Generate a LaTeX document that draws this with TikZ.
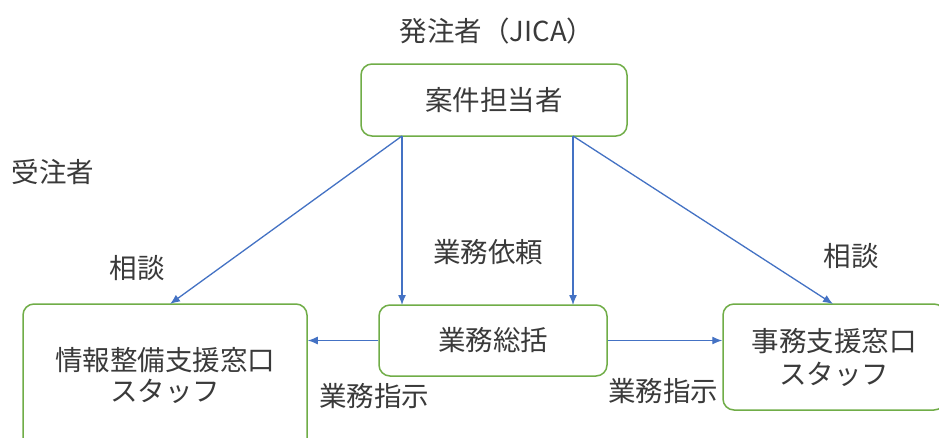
\documentclass[tikz,border=0pt]{standalone}
\usepackage{fontspec}
\setmainfont{Noto Sans CJK JP}
\usetikzlibrary{arrows.meta}
\definecolor{boxgreen}{HTML}{70AD47}
\definecolor{arrowblue}{HTML}{4472C4}
\definecolor{txt}{HTML}{3A3A3A}
\begin{document}
\begin{tikzpicture}[x=1pt,y=-1pt,
  every node/.style={text=txt,font=\fontsize{27.5}{33}\selectfont},
  box/.style={draw=boxgreen,line width=1.5pt,rounded corners=11pt,fill=white,align=center,inner sep=0pt},
  conn/.style={draw=arrowblue,line width=1.3pt,-{Latex[length=10pt,width=8pt]}},
  lbl/.style={inner sep=0pt}]
\useasboundingbox (0,0) rectangle (939,437);
\clip (0,0) rectangle (939,437);
\fill[white] (0,0) rectangle (939,437);
% boxes
\node[box,minimum width=266pt,minimum height=72pt] (top) at (494,100) {案件担当者};
\node[box,minimum width=228pt,minimum height=71pt] (mid) at (493,340.5) {業務総括};
\node[box,minimum width=284pt,minimum height=150pt] (left) at (165,379) {\raisebox{8pt}{\begin{tabular}{@{}c@{}}情報整備支援窓口\\[-2pt]スタッフ\end{tabular}}};
\node[box,minimum width=222pt,minimum height=106pt] (right) at (834,357) {事務支援窓口\\スタッフ};
% anchor points
\coordinate (t1) at (402,136);
\coordinate (t2) at (573,136);
\coordinate (m1) at (402,305);
\coordinate (m2) at (573,305);
\coordinate (l1) at (170,304);
\coordinate (r1) at (833,304);
% connectors
\draw[conn] (t1) -- (m1);
\draw[conn] (t2) -- (m2);
\draw[conn] (t1) -- (l1);
\draw[conn] (t2) -- (r1);
\draw[conn] (mid.west) -- (left.east |- mid.west);
\draw[conn] (mid.east) -- (right.west |- mid.east);
% labels
\node[lbl] (client) at (497,31) {発注者（JICA）};
\node[lbl] (contractor) at (53,172) {受注者};
\node[lbl] (req) at (488,252) {業務依頼};
\node[lbl] (cons1) at (137,268) {相談};
\node[lbl] (cons2) at (851,256) {相談};
\node[lbl] (ins1) at (374,396) {業務指示};
\node[lbl] (ins2) at (663,391) {業務指示};
\end{tikzpicture}
\end{document}
